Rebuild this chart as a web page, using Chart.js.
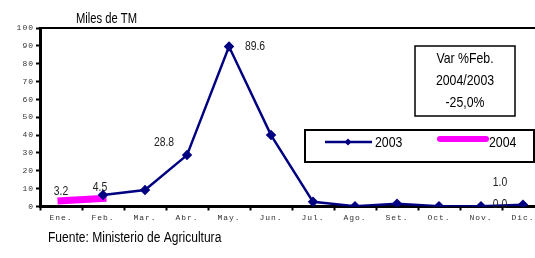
<!DOCTYPE html>
<html>
<head>
<meta charset="utf-8">
<script src="https://cdn.jsdelivr.net/npm/chart.js@4/dist/chart.umd.min.js"></script>
<style>
  html, body { margin: 0; padding: 0; background: #fff; overflow: hidden; }
  #wrap { width: 550px; height: 258px; }
</style>
</head>
<body>
<div id="wrap"><canvas id="chart" width="550" height="258"></canvas></div>
<script>
// datos
const meses = ['Ene.', 'Feb.', 'Mar.', 'Abr.', 'May.', 'Jun.', 'Jul.', 'Ago.', 'Set.', 'Oct.', 'Nov.', 'Dic.'];
const serie2003 = [null, 6.5, 9.2, 28.8, 89.6, 40.0, 2.6, 0.2, 1.5, 0.2, 0.2, 1.0];
const serie2004 = [3.2, 4.5, null, null, null, null, null, null, null, null, null, null];
const yTicks = [0, 10, 20, 30, 40, 50, 60, 70, 80, 90, 100];
const etiquetas = [
    { ds: 1, i: 0, text: '3.2', dx: 0, dy: -9 },
    { ds: 1, i: 1, text: '4.5', dx: -3, dy: -11 },
    { ds: 0, i: 3, text: '28.8', dx: -23, dy: -13 },
    { ds: 0, i: 4, text: '89.6', dx: 26, dy: 0 },
    { ds: 0, i: 11, text: '1.0', dx: -23, dy: -22 },
    { ds: 0, i: 11, text: '0.0', dx: -23, dy: 0 }
];

const sans = '"Liberation Sans", Arial, sans-serif';
const mono = '"Liberation Mono", "Courier New", monospace';

// texto angosto (tipo Arial Narrow)
function narrow(c, text, x, y, size, sx, align) {
    c.save();
    c.font = size + 'px ' + sans;
    c.textAlign = align || 'center';
    c.textBaseline = 'middle';
    c.translate(x, y);
    c.scale(sx, 1);
    c.fillText(text, 0, 0);
    c.restore();
}

const extras = {
    id: 'extras',
    beforeDraw(chart) {
        chart.ctx.letterSpacing = '1px';
    },
    beforeDatasetsDraw(chart) {
        chart.ctx.letterSpacing = '0px';
    },
    afterDraw(chart) {
        const c = chart.ctx;
        const a = chart.chartArea;
        c.save();
        // borde superior
        c.strokeStyle = '#000';
        c.lineWidth = 2;
        c.beginPath();
        c.moveTo(a.left, a.top);
        c.lineTo(a.right, a.top);
        c.stroke();

        // etiquetas de datos
        c.fillStyle = '#222';
        etiquetas.forEach(function(e) {
            const p = chart.getDatasetMeta(e.ds).data[e.i];
            narrow(c, e.text, p.x + e.dx, p.y + e.dy, 13, 0.8);
        });

        c.fillStyle = '#000';
        narrow(c, 'Miles de TM', 76, 19, 14, 0.8, 'left');
        narrow(c, 'Fuente: Ministerio de Agricultura', 48, 238, 14, 0.86, 'left');

        // cuadro variacion
        c.lineWidth = 1.5;
        c.strokeRect(415, 46, 100, 70);
        narrow(c, 'Var %Feb.', 465, 59, 15, 0.82);
        narrow(c, '2004/2003', 465, 81, 15, 0.82);
        narrow(c, '-25,0%', 465, 103, 15, 0.82);

        // leyenda
        c.lineWidth = 2;
        c.strokeRect(305, 130, 229, 32);
        c.strokeStyle = '#000080';
        c.lineWidth = 2.5;
        c.beginPath();
        c.moveTo(325, 142);
        c.lineTo(372, 142);
        c.stroke();
        c.fillStyle = '#000080';
        c.beginPath();
        c.moveTo(348, 138.5);
        c.lineTo(351.5, 142);
        c.lineTo(348, 145.5);
        c.lineTo(344.5, 142);
        c.closePath();
        c.fill();
        c.strokeStyle = '#ff00ff';
        c.lineWidth = 6;
        c.lineCap = 'round';
        c.beginPath();
        c.moveTo(440, 139);
        c.lineTo(486, 139);
        c.stroke();
        c.fillStyle = '#000';
        narrow(c, '2003', 375, 143, 15, 0.82, 'left');
        narrow(c, '2004', 489, 143, 15, 0.82, 'left');
        c.restore();
    }
};

new Chart(document.getElementById('chart'), {
    type: 'line',
    data: {
        labels: meses,
        datasets: [{
            label: '2003',
            data: serie2003,
            borderColor: '#000080',
            backgroundColor: '#000080',
            borderWidth: 2.5,
            pointStyle: 'rectRot',
            pointRadius: 3.5,
            pointHoverRadius: 3.5,
            tension: 0
        }, {
            label: '2004',
            data: serie2004,
            borderColor: '#ff00ff',
            backgroundColor: '#ff00ff',
            borderWidth: 7,
            borderCapStyle: 'square',
            pointRadius: 0,
            tension: 0
        }]
    },
    options: {
        responsive: false,
        animation: false,
        layout: { padding: { top: 28, right: 6, left: 0, bottom: 0 } },
        plugins: {
            legend: { display: false },
            tooltip: { enabled: false }
        },
        scales: {
            x: {
                offset: true,
                grid: {
                    offset: true,
                    drawOnChartArea: false,
                    color: '#000',
                    tickLength: 4,
                    tickWidth: 2
                },
                border: { color: '#000', width: 3 },
                ticks: {
                    color: '#333',
                    font: { family: mono, size: 8 },
                    padding: 3,
                    maxRotation: 0,
                    autoSkip: false
                },
                afterFit: function(s) { s.height = 51.5; }
            },
            y: {
                min: 0,
                max: 100,
                afterBuildTicks: function(s) { s.ticks = yTicks.map(function(v) { return { value: v }; }); },
                grid: {
                    drawOnChartArea: false,
                    color: '#000',
                    tickLength: 4,
                    tickWidth: 2
                },
                border: { color: '#000', width: 3 },
                ticks: {
                    color: '#333',
                    font: { family: mono, size: 8 },
                    padding: 2
                },
                afterFit: function(s) { s.width = 40; }
            }
        }
    },
    plugins: [extras]
});
</script>
</body>
</html>
